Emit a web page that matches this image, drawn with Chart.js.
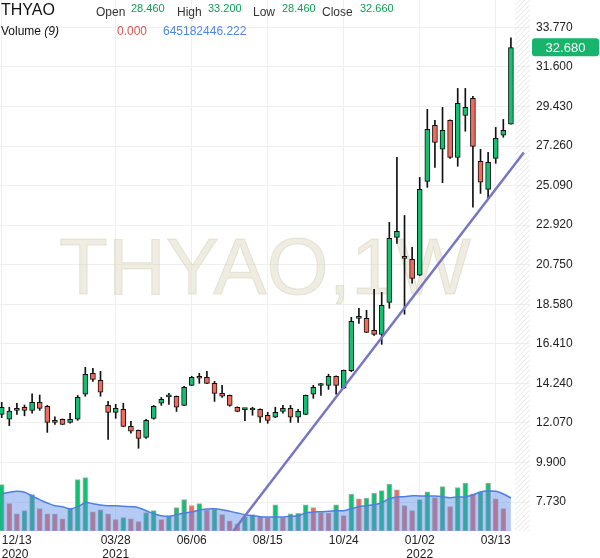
<!DOCTYPE html>
<html>
<head>
<meta charset="utf-8">
<title>THYAO 1W</title>
<script src="https://cdn.jsdelivr.net/npm/chart.js@4/dist/chart.umd.min.js"></script>
<style>
  body { margin: 0; background: #fff; }
  #wrap { position: relative; width: 600px; height: 558px; font-family: "Liberation Sans", Arial, sans-serif; }
  #wrap canvas { position: absolute; left: 0; top: 0; }
  .t { position: absolute; line-height: 1; white-space: nowrap; z-index: 2; }
  .lab { font-size: 12px; color: #333; top: 6px; }
  .num { font-size: 11px; color: #0f9d58; top: 2.5px; }
</style>
</head>
<body>
<div id="wrap">
  <canvas id="chart" width="600" height="558"></canvas>
  <span class="t" style="left:1px;top:1.5px;font-size:16px;color:#111">THYAO</span>
  <span class="t lab" style="left:96px">Open</span>
  <span class="t num" id="hOpen" style="left:131px"></span>
  <span class="t lab" style="left:177px">High</span>
  <span class="t num" id="hHigh" style="left:208px"></span>
  <span class="t lab" style="left:253px">Low</span>
  <span class="t num" id="hLow" style="left:282px"></span>
  <span class="t lab" style="left:322px">Close</span>
  <span class="t num" id="hClose" style="left:360px"></span>
  <span class="t" style="left:1px;top:24.5px;font-size:12px;color:#111">Volume <i>(9)</i></span>
  <span class="t" id="hVol" style="left:117px;top:24.5px;font-size:12px;color:#e0524f"></span>
  <span class="t" id="hVolMa" style="left:163px;top:24.5px;font-size:12px;color:#4f86e3"></span>
</div>

<script>
// weekly candles, 12/13/2020 .. 03/27/2022 (index 0 = 12/13)
const openP = [12.54, 12.27, 12.76, 12.93, 12.76, 13.20, 12.98, 12.21, 12.27, 12.10,
  12.27, 13.64, 14.79, 14.41, 13.03, 12.65, 12.82, 11.88, 11.66, 11.28,
  12.32, 13.15, 13.50, 13.53, 13.03, 14.13, 14.63, 14.57, 14.24, 13.69,
  13.58, 12.93, 12.80, 12.78, 12.82, 12.49, 12.38, 12.70, 12.87, 12.38,
  12.54, 13.64, 14.12, 14.13, 14.63, 13.97, 14.93, 17.80, 17.81, 17.15,
  16.93, 18.68, 22.25, 21.21, 21.04, 20.17, 25.32, 28.39, 27.08, 28.67,
  26.64, 28.94, 29.88, 26.42, 24.88, 26.58, 27.85, 28.46]
const highP = [13.20, 12.93, 13.15, 13.05, 13.66, 13.60, 13.03, 12.41, 12.29, 12.60,
  13.58, 15.12, 15.06, 14.90, 13.25, 13.09, 13.15, 12.16, 11.68, 12.27,
  13.03, 13.47, 13.69, 13.55, 14.08, 14.63, 14.79, 14.90, 14.35, 14.13,
  13.60, 12.95, 12.87, 12.93, 12.84, 12.65, 12.93, 13.03, 13.03, 12.82,
  13.60, 14.13, 14.24, 14.74, 14.65, 14.97, 17.86, 18.36, 18.25, 19.40,
  19.23, 23.07, 26.64, 23.45, 21.70, 25.54, 29.27, 28.67, 29.38, 28.69,
  30.42, 30.42, 29.99, 27.08, 26.91, 28.28, 28.72, 33.20]
const lowP = [12.36, 11.92, 12.54, 12.46, 12.60, 12.76, 11.55, 11.99, 11.97, 12.05,
  12.21, 13.53, 14.35, 13.53, 11.17, 12.32, 11.86, 11.50, 10.68, 11.22,
  12.27, 13.03, 13.09, 12.70, 13.01, 14.11, 14.24, 14.22, 13.25, 13.47,
  12.98, 12.68, 12.19, 12.49, 12.10, 12.05, 12.36, 12.60, 12.10, 12.10,
  12.52, 13.42, 13.58, 13.91, 13.64, 13.95, 14.88, 17.53, 17.02, 16.87,
  16.38, 18.36, 21.92, 18.03, 19.73, 20.15, 24.99, 26.09, 25.25, 26.58,
  26.15, 28.07, 23.90, 24.66, 24.39, 26.31, 27.74, 28.46]
const closeP = [12.93, 12.72, 12.87, 12.76, 13.20, 12.87, 12.10, 12.10, 11.99, 12.27,
  13.47, 14.74, 14.46, 13.75, 12.65, 12.87, 11.88, 11.61, 11.22, 12.21,
  12.98, 13.36, 13.52, 12.93, 14.02, 14.57, 14.52, 14.24, 13.69, 13.53,
  13.03, 12.70, 12.81, 12.79, 12.38, 12.21, 12.65, 12.87, 12.38, 12.70,
  13.58, 14.02, 14.13, 14.63, 14.13, 14.95, 17.64, 17.82, 17.04, 16.93,
  18.52, 22.20, 22.58, 21.10, 20.00, 24.88, 28.17, 27.46, 28.12, 26.64,
  29.60, 29.38, 27.24, 25.27, 26.36, 27.68, 28.12, 32.66]

// volume in millions and its 9-week average
const volume = [905, 534, 338, 397, 710, 436, 338, 332, 240, 436,
  1003, 1042, 377, 416, 338, 221, 260, 240, 182, 358,
  397, 221, 280, 456, 612, 495, 534, 411, 422, 319,
  201, 137, 280, 319, 280, 260, 514, 260, 338, 344,
  514, 456, 358, 352, 514, 299, 723, 631, 645, 743,
  788, 919, 807, 495, 397, 612, 768, 651, 866, 475,
  847, 938, 729, 768, 938, 631, 436, 0]
const volumeMa = [723, 757, 776, 757, 684, 612, 547, 495, 475, 436,
  475, 553, 534, 508, 495, 495, 483, 475, 456, 397,
  338, 299, 287, 319, 352, 371, 411, 430, 436, 416,
  385, 352, 319, 299, 280, 274, 274, 274, 287, 299,
  352, 371, 377, 385, 397, 397, 436, 475, 495, 514,
  553, 631, 665, 671, 690, 684, 684, 684, 671, 651,
  665, 671, 704, 762, 782, 776, 723, 645]

const tickIdx = [0, 15, 25, 35, 45, 55, 65]
const tickText = [['12/13', '2020'], ['03/28', '2021'], '06/06', '08/15', '10/24', ['01/02', '2022'], '03/13']
const yTicks = [7.73, 9.90, 12.07, 14.24, 16.41, 18.58, 20.75, 22.92, 25.09, 27.26, 29.43, 31.60, 33.77]

// drawn trend line (week index, price)
const trendX = [30.47, 68.7]
const trendY = [6.14, 26.91]

const lastPrice = 32.68
const volumeLastText = '0.000'
const volumeMaText = '645182446.222'

const FONT = '"Liberation Sans", Arial, sans-serif'
const GREEN = '#12c071'
const RED = '#f26a5a'

const last = closeP.length - 1
document.getElementById('hOpen').textContent = openP[last].toFixed(3)
document.getElementById('hHigh').textContent = highP[last].toFixed(3)
document.getElementById('hLow').textContent = lowP[last].toFixed(3)
document.getElementById('hClose').textContent = closeP[last].toFixed(3)
document.getElementById('hVol').textContent = volumeLastText
document.getElementById('hVolMa').textContent = volumeMaText

const idx = closeP.map((c, i) => i)
const up = closeP.map((c, i) => c >= openP[i])
const volUp = volume.map((v, i) => i === 0 || v >= volume[i - 1])
const xMax = 69.51

const decor = {
    id: 'decor',
    beforeDatasetsDraw(chart) {
        const { ctx, chartArea: a, scales } = chart
        // hatched area after the last candle
        const hx = scales.x.getPixelForValue(last + 0.5)
        const w = a.right - hx
        ctx.save()
        ctx.beginPath()
        ctx.rect(hx, a.top, w, a.bottom - a.top)
        ctx.clip()
        ctx.strokeStyle = '#e4e4e4'
        ctx.lineWidth = 1
        for (let k = a.top; k < a.bottom + w; k += 5) {
            ctx.beginPath()
            ctx.moveTo(hx, k)
            ctx.lineTo(a.right, k - w)
            ctx.stroke()
        }
        ctx.restore()

        // watermark
        ctx.save()
        ctx.font = '80px ' + FONT
        ctx.textAlign = 'center'
        ctx.fillStyle = 'rgba(224,218,196,0.5)'
        ctx.strokeStyle = 'rgba(200,192,165,0.35)'
        ctx.lineWidth = 1
        const cx = (a.left + a.right) / 2
        const cy = (a.top + a.bottom) / 2 + 28
        ctx.fillText('THYAO,1W', cx, cy)
        ctx.strokeText('THYAO,1W', cx, cy)
        ctx.restore()
    },
    afterDraw(chart) {
        const { ctx, chartArea: a, scales } = chart
        const y = scales.y.getPixelForValue(lastPrice)
        const x0 = a.right + 2
        const x1 = chart.width - 1
        ctx.save()
        ctx.fillStyle = '#17b56b'
        ctx.beginPath()
        if (ctx.roundRect) ctx.roundRect(x0, y - 9, x1 - x0, 18, 3)
        else ctx.rect(x0, y - 9, x1 - x0, 18)
        ctx.fill()
        ctx.fillStyle = '#fff'
        ctx.font = '13px ' + FONT
        ctx.textAlign = 'center'
        ctx.textBaseline = 'middle'
        ctx.fillText(lastPrice.toFixed(3), (x0 + x1) / 2, y + 1)
        ctx.restore()
    }
}

new Chart(document.getElementById('chart'), {
    type: 'bar',
    data: {
        datasets: [
            {
                type: 'line',
                label: 'trend',
                data: trendX.map((x, i) => ({ x: x, y: trendY[i] })),
                borderColor: '#7776c4',
                borderWidth: 2.5,
                pointRadius: 0,
                yAxisID: 'y',
                order: 0
            },
            {
                label: 'body',
                data: idx.map(i => ({ x: i, y: [openP[i], closeP[i]] })),
                backgroundColor: up.map(u => u ? GREEN : RED),
                borderColor: '#111',
                borderWidth: 1,
                borderSkipped: false,
                barThickness: 5,
                minBarLength: 2,
                grouped: false,
                yAxisID: 'y',
                order: 1
            },
            {
                label: 'wick',
                data: idx.map(i => ({ x: i, y: [lowP[i], highP[i]] })),
                backgroundColor: '#111',
                barThickness: 1,
                grouped: false,
                yAxisID: 'y',
                order: 2
            },
            {
                type: 'line',
                label: 'volume ma',
                data: idx.map(i => ({ x: i, y: volumeMa[i] })),
                fill: 'origin',
                backgroundColor: 'rgba(90,138,230,0.45)',
                borderColor: '#4d80e0',
                borderWidth: 1.5,
                pointRadius: 0,
                tension: 0.4,
                yAxisID: 'yv',
                order: 3
            },
            {
                label: 'volume',
                data: idx.map(i => ({ x: i, y: volume[i] })),
                backgroundColor: volUp.map(u => u ? GREEN : RED),
                borderColor: 'rgba(165,165,165,0.9)',
                borderWidth: 1,
                borderSkipped: false,
                barThickness: 5,
                grouped: false,
                yAxisID: 'yv',
                order: 4
            }
        ]
    },
    options: {
        responsive: false,
        animation: false,
        layout: { padding: 0 },
        plugins: { legend: { display: false }, tooltip: { enabled: false } },
        scales: {
            x: {
                type: 'linear',
                offset: false,
                bounds: 'data',
                min: -0.224,
                max: xMax,
                afterBuildTicks: s => { s.ticks = tickIdx.concat([xMax]).map(v => ({ value: v })) },
                afterFit: s => { s.height = 27; s.paddingLeft = 0; s.paddingRight = 0 },
                ticks: {
                    align: 'inner',
                    autoSkip: false,
                    maxRotation: 0,
                    padding: 2,
                    color: '#222',
                    font: { size: 12, family: FONT },
                    callback: (v, i) => tickText[i] !== undefined ? tickText[i] : ''
                },
                grid: {
                    offset: false,
                    color: c => c.index >= tickIdx.length ? 'rgba(0,0,0,0)' : '#efefef',
                    drawTicks: false
                },
                border: { display: false }
            },
            y: {
                type: 'linear',
                position: 'right',
                bounds: 'data',
                min: 6.14,
                max: 35.27,
                afterBuildTicks: s => { s.ticks = yTicks.map(v => ({ value: v })) },
                afterFit: s => { s.width = 70; s.paddingTop = 0; s.paddingBottom = 0 },
                ticks: {
                    padding: 6,
                    color: '#222',
                    font: { size: 12, family: FONT },
                    callback: v => v.toFixed(3)
                },
                grid: { color: '#efefef', drawTicks: false },
                border: { display: false }
            },
            yv: {
                type: 'linear',
                display: false,
                min: 0,
                max: 10380
            }
        }
    },
    plugins: [decor]
})
</script>
</body>
</html>
